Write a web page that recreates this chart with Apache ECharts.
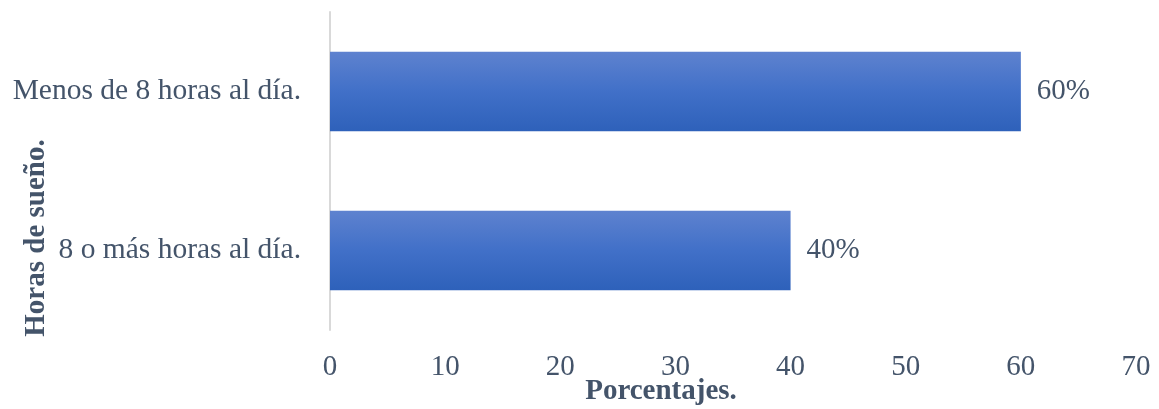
<!DOCTYPE html>
<html><head><meta charset="utf-8">
<script src="https://cdn.jsdelivr.net/npm/echarts@6/dist/echarts.min.js"></script>
<style>html,body{margin:0;padding:0;background:#fff}#c{width:1159px;height:409px}</style>
</head><body><div id="c"></div>
<script>
const categories = ["8 o más horas al día.", "Menos de 8 horas al día."];
const values = [40, 60];
const xTicks = [0, 10, 20, 30, 40, 50, 60, 70];
const xTitle = "Porcentajes.";
const yTitle = "Horas de sueño.";

const font = "'Liberation Serif', 'Times New Roman', serif";
const txt = "#44546a";
const chart = echarts.init(document.getElementById('c'), null, {renderer: 'canvas'});
chart.setOption({
  animation: false,
  grid: {left: 330, right: 23, top: 12, bottom: 79, containLabel: false},
  xAxis: {
    type: 'value', min: xTicks[0], max: xTicks[xTicks.length - 1], interval: 10,
    axisLine: {show: false}, axisTick: {show: false}, splitLine: {show: false},
    axisLabel: {color: txt, fontFamily: font, fontSize: 29, margin: 23}
  },
  yAxis: {
    type: 'category', data: categories,
    axisLine: {show: true, lineStyle: {color: '#d9d9d9', width: 2}},
    axisTick: {show: false},
    axisLabel: {color: txt, fontFamily: font, fontSize: 29.5, margin: 29}
  },
  graphic: [
    {type: 'text', x: 661, y: 392, style: {text: xTitle, font: "bold 29px " + font, fill: txt, textAlign: 'center', textVerticalAlign: 'middle'}},
    {type: 'text', rotation: Math.PI / 2, x: 37, y: 238, style: {text: yTitle, font: "bold 29px " + font, fill: txt, textAlign: 'center', textVerticalAlign: 'middle'}}
  ],
  series: [{
    type: 'bar', data: values, barWidth: '50%',
    itemStyle: {color: new echarts.graphic.LinearGradient(0, 0, 0, 1, [
      {offset: 0, color: '#5e82cf'}, {offset: 0.5, color: '#4170c8'}, {offset: 1, color: '#2e61ba'}])},
    label: {show: true, position: 'right', distance: 16, formatter: '{c}%', color: txt, fontFamily: font, fontSize: 29}
  }]
});
</script></body></html>
